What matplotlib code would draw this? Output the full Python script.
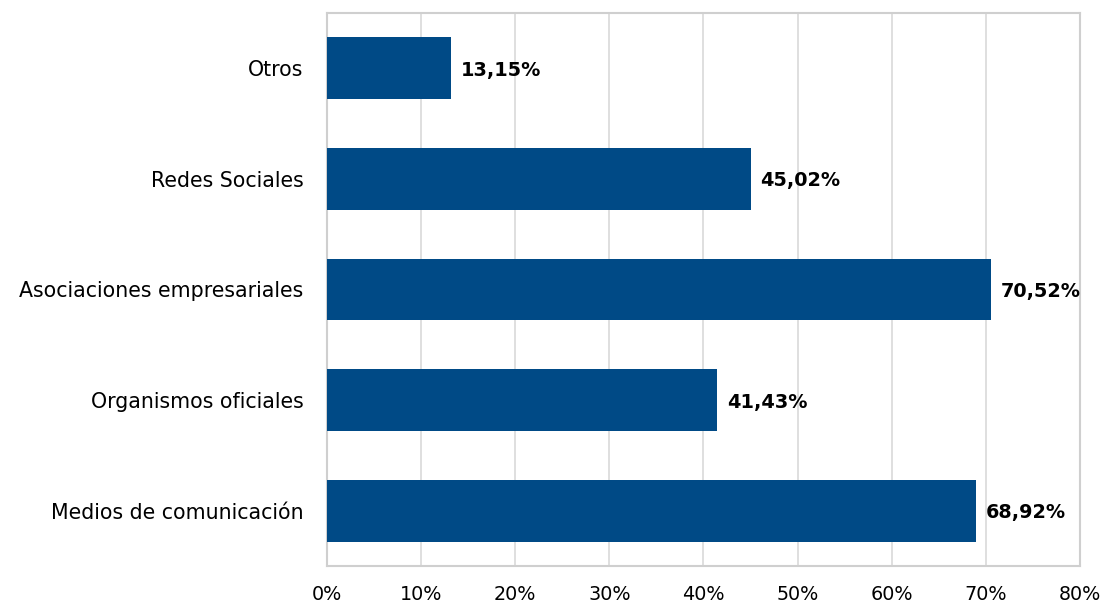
import numpy as np
import matplotlib.pyplot as plt
from matplotlib.ticker import FuncFormatter

# data (bottom to top)
categorias = ['Medios de comunicación', 'Organismos oficiales',
              'Asociaciones empresariales', 'Redes Sociales', 'Otros']
valores = [68.92, 41.43, 70.52, 45.02, 13.15]
ticks_x = [0, 10, 20, 30, 40, 50, 60, 70, 80]

azul = '#004A86'
gris = '#d9d9d9'

plt.rcParams['font.family'] = ['DejaVu Sans']

fig = plt.figure(figsize=(11.02, 6.05), dpi=100)
ax = fig.add_axes([0.2967, 0.0645, 0.6833, 0.914])

pos = np.arange(len(categorias))
barras = ax.barh(pos, valores, height=0.56, color=azul, zorder=3)

for b, v in zip(barras, valores):   # etiquetas con coma decimal
    txt = ('%.2f%%' % v).replace('.', ',')
    ax.annotate(txt, (b.get_width(), b.get_y() + b.get_height() / 2),
                xytext=(7, -1.5), textcoords='offset points', va='center',
                ha='left', fontsize=13.9, fontweight='bold', color='black',
                zorder=4)

ax.set_xlim(0, 80)
ax.set_ylim(-0.5, len(categorias) - 0.5)
ax.set_xticks(ticks_x)
ax.xaxis.set_major_formatter(FuncFormatter(lambda x, p: '%d%%' % x))
ax.set_yticks(pos)
ax.set_yticklabels(categorias)
ax.tick_params(axis='both', length=0, colors='black')
ax.tick_params(axis='y', pad=17, labelsize=14.8)
ax.tick_params(axis='x', pad=13.5, labelsize=13.8)

ax.grid(axis='x', color=gris, linewidth=1.2, zorder=0)
for s in ax.spines.values():
    s.set_color('#cfcfcf')
    s.set_linewidth(1.5)

fig.savefig('out.png', dpi=100)
